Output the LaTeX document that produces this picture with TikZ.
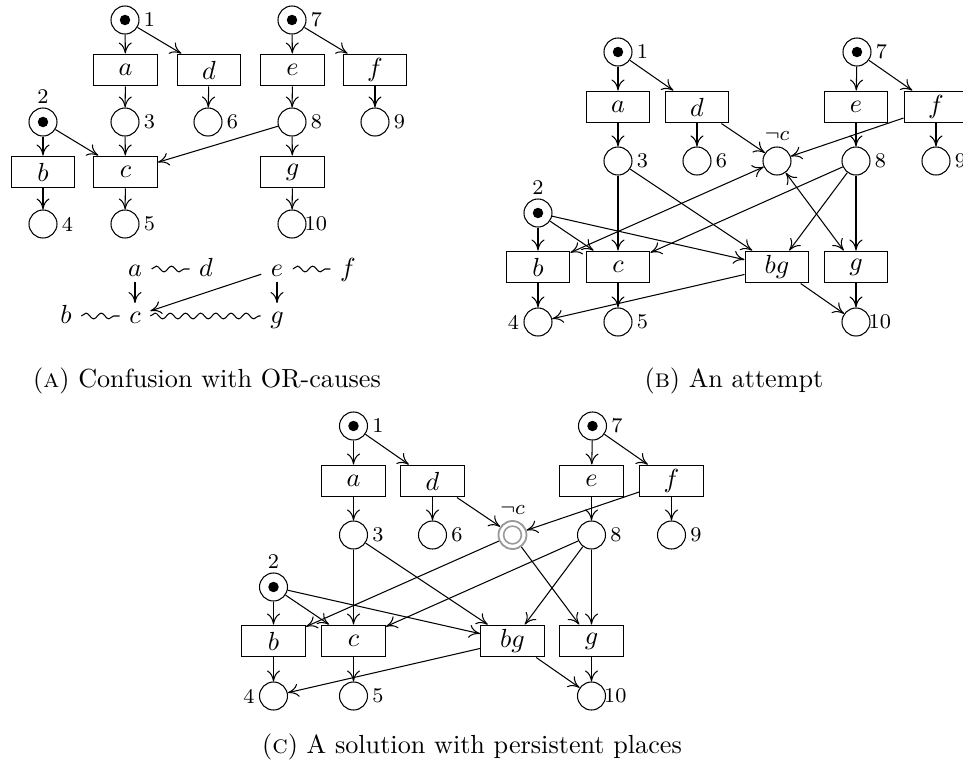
\documentclass[tikz,border=0pt]{standalone}
\usetikzlibrary{arrows.meta,decorations.pathmorphing}
\newcommand\netBC[4]{%
\begin{scope}[shift={#2}]
\node[marked,label={[lbl]right:1}] (#1p1) at (618,52) {};
\node[marked,label={[lbl]right:7}] (#1p7) at (857,52) {};
\node[tr] (#1ta) at (618,107) {$a$};
\node[tr] (#1td) at (697,107) {$d$};
\node[tr] (#1te) at (856,107) {$e$};
\node[tr] (#1tf) at (936,107) {$f$};
\node[pl,label={[lbl]right:3}] (#1p3) at (618,161) {};
\node[pl,label={[lbl]right:6}] (#1p6) at (697,161) {};
\node[#3,label={[lbl,inner sep=2pt]above:$\neg c$}] (#1pn) at (777,161) {};
\node[pl,label={[lbl]right:8}] (#1p8) at (856,161) {};
\node[pl,label={[lbl]right:9}] (#1p9) at (936,161) {};
\node[marked,label={[lbl]above:2}] (#1p2) at (538,213) {};
\node[tr] (#1tb) at (538,267) {$b$};
\node[tr] (#1tc) at (618,267) {$c$};
\node[tr] (#1tbg) at (777,267) {$bg$};
\node[tr] (#1tg) at (856,267) {$g$};
\node[pl,label={[lbl]left:4}] (#1p4) at (538,322) {};
\node[pl,label={[lbl]right:5}] (#1p5) at (618,322) {};
\node[pl,label={[lbl,xshift=-2.4pt]right:10}] (#1p10) at (856,322) {};
\end{scope}
\foreach \nA/\nB in {p1/ta,p1/td,p7/te,p7/tf,ta/p3,td/p6,td/pn,te/p8,tf/p9,tf/pn,
  p3/tc,p3/tbg,p2/tb,p2/tc,p2/tbg,p8/tc,p8/tbg,p8/tg,tb/p4,tc/p5,tbg/p4,tbg/p10,tg/p10}
  {\draw[flow] (#1\nA) -- (#1\nB);}
\draw[#4] (#1pn) -- (#1tb);
\draw[#4] (#1pn) -- (#1tg);
}
\begin{document}
\begin{tikzpicture}[x=0.382pt,y=-0.382pt,
  >={To[length=4.2pt,width=5pt]},
  pl/.style={circle,draw,minimum size=10.7pt,inner sep=0pt},
  marked/.style={pl,path picture={\fill[black] (path picture bounding box.center) circle (2pt);}},
  persist/.style={pl,draw=black!40,line width=0.7pt,path picture={\draw[black!40,line width=0.6pt] (path picture bounding box.center) circle (3.4pt);}},
  tr/.style={draw,rectangle,minimum width=24.4pt,minimum height=12.2pt,inner sep=0pt},
  lbl/.style={font=\footnotesize,inner sep=1.5pt},
  flow/.style={->},
  ev/.style={inner xsep=3.5pt,inner ysep=1pt,text height=1.5ex,text depth=.25ex},
  wavy/.style={decorate,decoration={snake,segment length=5.8pt,amplitude=1.1pt}},
  captxt/.style={font=\normalsize,anchor=base}
]
\useasboundingbox (0,0) rectangle (963,762);

% ---------- (a) ----------
\node[marked,label={[lbl]right:1}] (ap1) at (125,20) {};
\node[marked,label={[lbl]right:7}] (ap7) at (292,20) {};
\node[tr] (ata) at (125.5,70) {$a$};
\node[tr] (atd) at (209,70) {$d$};
\node[tr] (ate) at (292.5,70) {$e$};
\node[tr] (atf) at (375,70) {$f$};
\node[marked,label={[lbl]above:2}] (ap2) at (43,122) {};
\node[pl,label={[lbl]right:3}] (ap3) at (125,122) {};
\node[pl,label={[lbl]right:6}] (ap6) at (208,122) {};
\node[pl,label={[lbl]right:8}] (ap8) at (292,122) {};
\node[pl,label={[lbl]right:9}] (ap9) at (375,122) {};
\node[tr] (atb) at (43,172) {$b$};
\node[tr] (atc) at (125.5,172) {$c$};
\node[tr] (atg) at (292.5,172) {$g$};
\node[pl,label={[lbl]right:4}] (ap4) at (43,224) {};
\node[pl,label={[lbl]right:5}] (ap5) at (125,224) {};
\node[pl,label={[lbl,xshift=-2.4pt]right:10}] (ap10) at (292,224) {};
\foreach \nA/\nB in {p1/ta,p1/td,p7/te,p7/tf,ta/p3,td/p6,te/p8,tf/p9,p3/tc,
  p2/tb,p2/tc,p8/tc,p8/tg,tb/p4,tc/p5,tg/p10}
  {\draw[flow] (a\nA) -- (a\nB);}

% event structure
\node[ev] (ea) at (135,269) {$a$};
\node[ev] (ed) at (206,269) {$d$};
\node[ev] (ee) at (277,269) {$e$};
\node[ev] (ef) at (348,269) {$f$};
\node[ev] (eb) at (66,316) {$b$};
\node[ev] (ec) at (135,316) {$c$};
\node[ev] (eg) at (277,316) {$g$};
\draw[wavy] (ea) -- (ed);
\draw[wavy] (ee) -- (ef);
\draw[wavy] (eb) -- (ec);
\draw[wavy] (ec) -- (eg);
\draw[flow] (ea) -- (ec);
\draw[flow] (ee) -- (eg);
\draw[flow] (ee) -- (ec);

% ---------- (b) and (c) ----------
\netBC{b}{(0,0)}{pl}{<->}
\netBC{c}{(-264.5,374)}{persist}{->}

% captions
\node[captxt] (capA) at (207,387) {(\textsc{a}) Confusion with OR-causes};
\node[captxt] (capB) at (734,387) {(\textsc{b}) An attempt};
\node[captxt] (capC) at (472,753) {(\textsc{c}) A solution with persistent places};
\end{tikzpicture}
\end{document}
